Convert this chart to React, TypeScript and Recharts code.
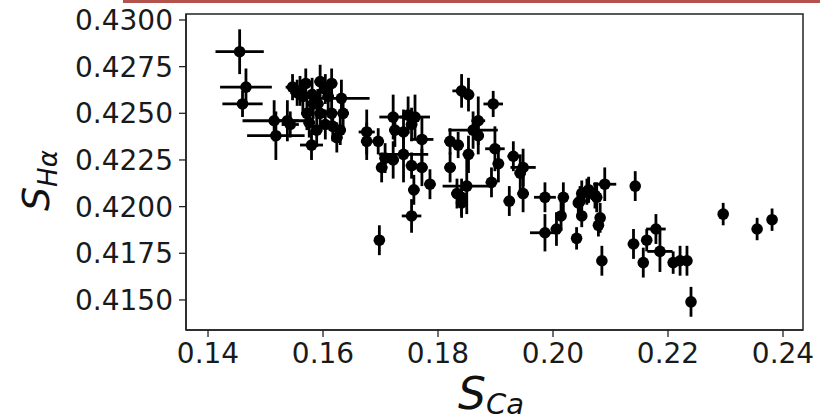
import React from 'react';
import { ScatterChart, Scatter, XAxis, YAxis, ErrorBar, ReferenceArea } from 'recharts';

// S_Ca values (x)
const sCa = [
  0.1455, 0.1466, 0.1460, 0.1515, 0.1518, 0.1538, 0.1543, 0.1547, 0.1555, 0.1580,
  0.1560, 0.1570, 0.1581, 0.1595, 0.1615, 0.1632, 0.1635, 0.1624, 0.1589, 0.1572,
  0.1583, 0.1609, 0.1615, 0.1604, 0.1617, 0.1565, 0.1595, 0.1591, 0.1604, 0.1630,
  0.1576,
  0.1676, 0.1676, 0.1696, 0.1722, 0.1748, 0.1760, 0.1725, 0.1740, 0.1754, 0.1772,
  0.1708, 0.1722, 0.1740, 0.1702, 0.1754, 0.1772, 0.1786, 0.1758, 0.1754, 0.1698,
  0.1841, 0.1853, 0.1896, 0.1870, 0.1861, 0.1870, 0.1821, 0.1835, 0.1853, 0.1899,
  0.1905, 0.1931, 0.1948, 0.1943, 0.1821, 0.1850, 0.1833, 0.1841, 0.1893, 0.1924,
  0.1948, 0.1986, 0.1841,
  0.1986, 0.2006, 0.2014, 0.2041, 0.2050, 0.2079, 0.2082, 0.2085, 0.2140, 0.2163,
  0.2179, 0.2186, 0.2157, 0.2209, 0.2221, 0.2233, 0.2240, 0.2296, 0.2355, 0.2381,
  0.2018, 0.2047, 0.2059, 0.2076, 0.2090, 0.2143, 0.2050, 0.2062, 0.2073, 0.2044,
];

// S_Hα values (y)
const sHa = [
  0.4283, 0.4264, 0.4255, 0.4246, 0.4238, 0.4246, 0.4244, 0.4264, 0.4261, 0.4233,
  0.4262, 0.4266, 0.4260, 0.4267, 0.4266, 0.4258, 0.4250, 0.4237, 0.4241, 0.4250,
  0.4255, 0.4259, 0.4250, 0.4244, 0.4243, 0.4259, 0.4250, 0.4255, 0.4263, 0.4241,
  0.4245,
  0.4240, 0.4235, 0.4235, 0.4248, 0.4249, 0.4248, 0.4241, 0.4240, 0.4244, 0.4236,
  0.4226, 0.4225, 0.4228, 0.4221, 0.4222, 0.4221, 0.4212, 0.4209, 0.4195, 0.4182,
  0.4262, 0.4260, 0.4255, 0.4246, 0.4241, 0.4238, 0.4235, 0.4233, 0.4228, 0.4231,
  0.4223, 0.4227, 0.4221, 0.4218, 0.4221, 0.4211, 0.4207, 0.4205, 0.4213, 0.4203,
  0.4207, 0.4205, 0.4202,
  0.4186, 0.4188, 0.4195, 0.4183, 0.4195, 0.4190, 0.4194, 0.4171, 0.4180, 0.4182,
  0.4188, 0.4176, 0.4170, 0.4170, 0.4171, 0.4171, 0.4149, 0.4196, 0.4188, 0.4193,
  0.4205, 0.4203, 0.4208, 0.4205, 0.4212, 0.4211, 0.4207, 0.4209, 0.4206, 0.4202,
];

// S_Ca errors
const sCaErr = [
  0.0042, 0.0045, 0.0035, 0.0055, 0.0050, 0.0020, 0.0015, 0.0012, 0.0012, 0.0020,
  0.0010, 0.0010, 0.0010, 0.0010, 0.0010, 0.0049, 0.0010, 0.0010, 0.0010, 0.0010,
  0.0010, 0.0010, 0.0010, 0.0010, 0.0010, 0.0010, 0.0010, 0.0010, 0.0010, 0.0010,
  0.0010,
  0.0014, 0.0010, 0.0010, 0.0024, 0.0010, 0.0026, 0.0010, 0.0010, 0.0010, 0.0020,
  0.0010, 0.0010, 0.0043, 0.0010, 0.0010, 0.0010, 0.0010, 0.0010, 0.0017, 0.0007,
  0.0016, 0.0010, 0.0017, 0.0012, 0.0043, 0.0010, 0.0010, 0.0010, 0.0010, 0.0017,
  0.0010, 0.0010, 0.0022, 0.0010, 0.0010, 0.0042, 0.0010, 0.0010, 0.0010, 0.0010,
  0.0010, 0.0019, 0.0010,
  0.0026, 0.0010, 0.0008, 0.0008, 0.0008, 0.0008, 0.0008, 0.0008, 0.0010, 0.0008,
  0.0017, 0.0022, 0.0008, 0.0008, 0.0008, 0.0008, 0.0008, 0.0008, 0.0008, 0.0008,
  0.0008, 0.0010, 0.0008, 0.0008, 0.0020, 0.0008, 0.0008, 0.0008, 0.0008, 0.0008,
];

// S_Hα errors
const sHaErr = [
  0.0012, 0.0010, 0.0007, 0.0011, 0.0013, 0.0011, 0.0007, 0.0007, 0.0007, 0.0008,
  0.0008, 0.0008, 0.0009, 0.0009, 0.0008, 0.0010, 0.0008, 0.0008, 0.0009, 0.0009,
  0.0008, 0.0008, 0.0008, 0.0008, 0.0008, 0.0008, 0.0008, 0.0008, 0.0008, 0.0008,
  0.0008,
  0.0012, 0.0010, 0.0007, 0.0012, 0.0010, 0.0012, 0.0009, 0.0012, 0.0009, 0.0012,
  0.0008, 0.0010, 0.0015, 0.0008, 0.0007, 0.0010, 0.0008, 0.0008, 0.0009, 0.0008,
  0.0009, 0.0009, 0.0007, 0.0013, 0.0010, 0.0010, 0.0007, 0.0007, 0.0010, 0.0012,
  0.0010, 0.0008, 0.0010, 0.0010, 0.0008, 0.0015, 0.0008, 0.0010, 0.0008, 0.0008,
  0.0010, 0.0008, 0.0008,
  0.0010, 0.0009, 0.0008, 0.0006, 0.0006, 0.0006, 0.0008, 0.0008, 0.0008, 0.0006,
  0.0008, 0.0011, 0.0008, 0.0006, 0.0008, 0.0008, 0.0008, 0.0006, 0.0006, 0.0006,
  0.0008, 0.0008, 0.0007, 0.0008, 0.0009, 0.0008, 0.0007, 0.0007, 0.0007, 0.0007,
];

const xTicks = [0.14, 0.16, 0.18, 0.2, 0.22, 0.24];
const yTicks = [0.415, 0.4175, 0.42, 0.4225, 0.425, 0.4275, 0.43];
const xDomain: [number, number] = [0.13617, 0.24348];
const yDomain: [number, number] = [0.41339, 0.43032];

const data = sCa.map((x, i) => ({ x, y: sHa[i], xe: sCaErr[i], ye: sHaErr[i] }));

const FONT = '"DejaVu Sans", sans-serif';

const Dot = (props: any) => <circle cx={props.cx} cy={props.cy} r={5.8} fill="#000" />;

const YLabel = () => (
  <text
    transform="translate(49,211) rotate(-90)"
    fontFamily={FONT}
    fontStyle="italic"
    fill="#111"
  >
    <tspan fontSize={38}>S</tspan>
    <tspan fontSize={26} dy={8}>Hα</tspan>
  </text>
);

const XLabel = () => (
  <text x={458} y={409} fontFamily={FONT} fontStyle="italic" fill="#111">
    <tspan fontSize={44}>S</tspan>
    <tspan fontSize={29} dy={5}>Ca</tspan>
  </text>
);

export default function App() {
  const tickStyle = { fontFamily: FONT, fontSize: 28, fill: '#1a1a1a' };
  return (
    <div style={{ position: 'absolute', left: 0, top: 0, width: 820, height: 419, background: '#fff' }}>
      <div style={{ position: 'absolute', left: 123, top: 0, width: 697, height: 2.5, background: '#b4534e' }} />
      <ScatterChart width={820} height={419} margin={{ top: 14, right: 17, bottom: 0, left: 0 }}>
        <XAxis
          type="number"
          dataKey="x"
          domain={xDomain}
          allowDataOverflow
          ticks={xTicks}
          tickFormatter={(v: number) => v.toFixed(2)}
          tick={tickStyle}
          tickSize={7}
          tickMargin={6}
          height={89}
          axisLine={{ stroke: '#222', strokeWidth: 1.5 }}
          tickLine={{ stroke: '#222', strokeWidth: 1.3 }}
          label={<XLabel />}
        />
        <YAxis
          type="number"
          dataKey="y"
          domain={yDomain}
          allowDataOverflow
          ticks={yTicks}
          tickFormatter={(v: number) => v.toFixed(4)}
          tick={tickStyle}
          tickSize={7}
          tickMargin={6}
          width={186}
          axisLine={{ stroke: '#222', strokeWidth: 1.5 }}
          tickLine={{ stroke: '#222', strokeWidth: 1.3 }}
          label={<YLabel />}
        />
        <ReferenceArea
          x1={xDomain[0]}
          x2={xDomain[1]}
          y1={yDomain[0]}
          y2={yDomain[1]}
          fill="none"
          fillOpacity={0}
          stroke="#222"
          strokeWidth={1.5}
          ifOverflow="visible"
        />
        <Scatter data={data} shape={<Dot />} isAnimationActive={false}>
          <ErrorBar dataKey="xe" direction="x" width={0} stroke="#000" strokeWidth={2.8} />
          <ErrorBar dataKey="ye" direction="y" width={0} stroke="#000" strokeWidth={2.8} />
        </Scatter>
      </ScatterChart>
    </div>
  );
}
